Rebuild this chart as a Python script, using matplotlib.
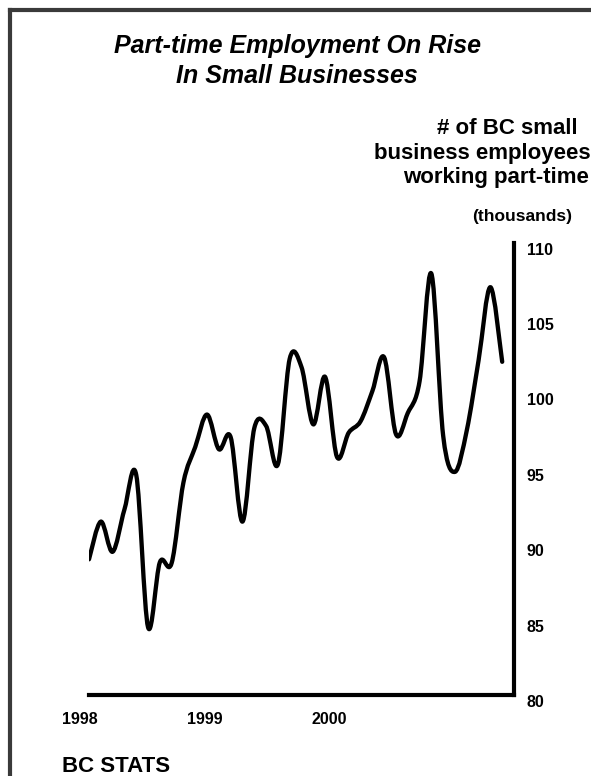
import numpy as np
import matplotlib
matplotlib.use("Agg")
import matplotlib.pyplot as plt
from matplotlib.path import Path
from matplotlib.patches import PathPatch
from matplotlib.lines import Line2D

plt.rcParams['font.family'] = ['Liberation Sans', 'DejaVu Sans']

# ---- data (monthly, Jan 1998 .. Dec 2000), thousands ----
start_year = 1998
month_index = list(range(36))
employees = [89.0, 91.5, 89.5, 92.3, 94.6, 84.5, 88.8, 88.75, 94.1, 96.45, 98.6, 96.3,
             97.1, 91.5, 97.7, 97.85, 95.3, 102.3, 101.75, 97.95, 101.1, 95.8, 97.4, 98.15,
             100.15, 102.4, 97.3, 98.7, 100.8, 107.95, 97.2, 94.8, 97.55, 102.2, 107.05, 102.1]
year_labels = ['1998', '1999', '2000']
y_ticks = [80, 85, 90, 95, 100, 105, 110]
y_labels = ['80', '85', '90', '95', '100', '105', '110']

W, H = 591, 776
fig = plt.figure(figsize=(W / 100, H / 100), dpi=100)
fig.patch.set_facecolor('white')

def fx(px):
    return px / W

def fy(py):
    return 1 - py / H

# frame (dark grey, top and left)
fig.add_artist(Line2D([fx(10), fx(10)], [fy(10), fy(H + 5)], transform=fig.transFigure,
                      color='#3a3a3a', lw=3.0, solid_capstyle='projecting'))
fig.add_artist(Line2D([fx(10), fx(W + 5)], [fy(10), fy(10)], transform=fig.transFigure,
                      color='#3a3a3a', lw=3.0, solid_capstyle='projecting'))

ax_l, ax_r, ax_t, ax_b = 89, 514, 242.7, 695
ax = fig.add_axes([fx(ax_l), fy(ax_b), (ax_r - ax_l) / W, (ax_b - ax_t) / H])
ax.patch.set_alpha(0)
ax.set_xlim(1998, 2001)
ax.set_ylim(80, 110)

x = np.array([start_year + m / 12 for m in month_index])
y = np.array(employees, dtype=float)
pts = np.column_stack([x, y])
n = len(pts)
verts = [tuple(pts[0])]
codes = [Path.MOVETO]
for i in range(n - 1):
    p0 = pts[max(i - 1, 0)]
    p1 = pts[i]
    p2 = pts[i + 1]
    p3 = pts[min(i + 2, n - 1)]
    c1 = p1 + (p2 - p0) / 6.0
    c2 = p2 - (p3 - p1) / 6.0
    verts += [tuple(c1), tuple(c2), tuple(p2)]
    codes += [Path.CURVE4, Path.CURVE4, Path.CURVE4]
ax.add_patch(PathPatch(Path(verts, codes), fill=False, edgecolor='black', lw=3.1,
                       capstyle='round', joinstyle='round', transform=ax.transData))

for side in ['left', 'top']:
    ax.spines[side].set_visible(False)
for side in ['right', 'bottom']:
    ax.spines[side].set_linewidth(3.0)
    ax.spines[side].set_color('black')
    ax.spines[side].set_capstyle('projecting')

ax.yaxis.tick_right()
ax.set_yticks(y_ticks)
ax.set_yticklabels(y_labels, fontsize=11.5, fontweight='bold')
for lbl in ax.get_yticklabels():
    lbl.set_verticalalignment('top')
ax.tick_params(axis='y', length=0, pad=9)
ax.set_xticks([])

# year labels sit at fixed spots under the axis (as in the original artwork)
label_px = [80, 205, 329]
for p, lab in zip(label_px, year_labels):
    fig.text(fx(p), fy(720), lab, ha='center', va='center', fontsize=11.5, fontweight='bold')

# title
fig.text(fx(297), fy(46), 'Part-time Employment On Rise', ha='center', va='center',
         fontsize=18, fontweight='bold', fontstyle='italic')
fig.text(fx(297), fy(76), 'In Small Businesses', ha='center', va='center',
         fontsize=18, fontweight='bold', fontstyle='italic')

# axis caption
fig.text(fx(578), fy(129), '# of BC small', ha='right', va='center', fontsize=16, fontweight='bold')
fig.text(fx(591), fy(153), 'business employees', ha='right', va='center', fontsize=16, fontweight='bold')
fig.text(fx(589), fy(177), 'working part-time', ha='right', va='center', fontsize=16, fontweight='bold')
fig.text(fx(522), fy(216), '(thousands)', ha='center', va='center', fontsize=12.5, fontweight='bold')

fig.text(fx(62), fy(766), 'BC STATS', ha='left', va='center', fontsize=16, fontweight='bold')

fig.savefig('out.png', dpi=100, facecolor='white')
